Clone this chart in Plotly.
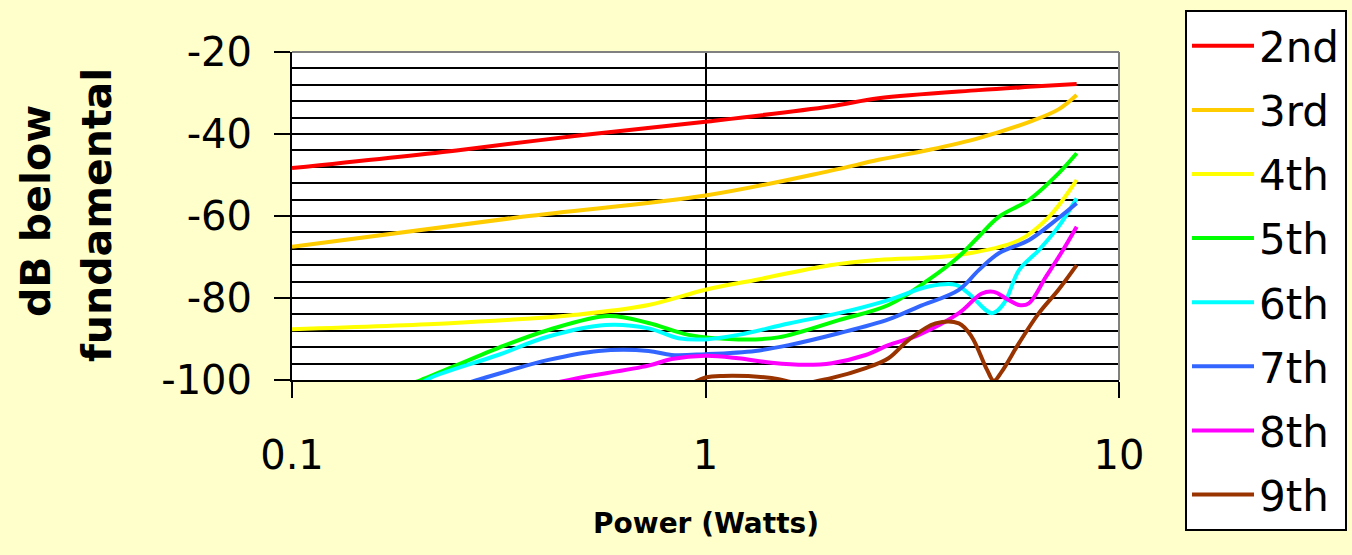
import plotly.graph_objects as go

# ---- data ----
names = ["2nd", "3rd", "4th", "5th", "6th", "7th", "8th", "9th"]
colors = ["#FF0000", "#FFCC00", "#FFFF00", "#00FF00", "#00FFFF", "#3366FF", "#FF00FF", "#993300"]

x2 = [0.1, 0.25, 0.5, 1, 2, 2.62, 4.58, 6.05, 7.9]
y2 = [-48.3, -44, -40.3, -37, -33.3, -31.3, -29.3, -28.5, -27.8]

x3 = [0.1, 0.36, 1, 2, 2.62, 3.46, 4.58, 6.05, 7.14, 7.9]
y3 = [-67.5, -60.2, -55, -49, -46.3, -43.9, -41, -37.1, -34, -30.5]

x4 = [0.1, 0.235, 0.352, 0.485, 0.728, 1, 1.32, 2, 2.62, 4.1, 5.73, 6.77, 7.9]
y4 = [-87.6, -86.2, -85.2, -84.1, -81.7, -78, -75.6, -72, -70.7, -69.5, -65.9, -60.2, -51.2]

x5 = [0.18, 0.205, 0.315, 0.417, 0.582, 0.728, 0.91, 1.2, 1.5, 2.1, 2.77, 3.46, 4.1, 4.58, 5.12, 6.05, 7.14, 7.9]
y5 = [-102, -100, -92.2, -87.8, -84.4, -86.1, -89, -90.1, -89.6, -85.4, -81.7, -75.6, -69.9, -65, -60.2, -56.1, -49.6, -44.7]

x6 = [0.2, 0.216, 0.315, 0.417, 0.573, 0.728, 0.86, 1, 1.2, 1.59, 2.1, 2.77, 3.46, 4.03, 4.33, 4.93, 5.27, 5.73, 6.4, 7.14, 7.9]
y6 = [-101.5, -99.5, -93.9, -89.4, -86.6, -87.4, -89.8, -90.1, -89, -86.2, -83.7, -80.5, -77.2, -76.8, -78.9, -83.7, -81.3, -73.2, -68.3, -62.6, -55.7]

x7 = [0.25, 0.285, 0.417, 0.551, 0.728, 0.828, 1, 1.32, 1.59, 2.1, 2.77, 3.28, 4.1, 4.58, 5.12, 6.05, 6.88, 7.9]
y7 = [-101.6, -99.8, -95.1, -92.9, -92.9, -93.9, -93.7, -92.9, -91.5, -88.6, -85.2, -82.1, -78, -73.2, -69.1, -65.9, -61.8, -56.9]

x8 = [0.42, 0.487, 0.728, 0.828, 1, 1.2, 1.445, 1.75, 2.02, 2.44, 2.77, 3.28, 4.1, 4.66, 4.98, 5.33, 5.73, 6.05, 6.66, 7.24, 7.9]
y8 = [-101, -99.6, -96.5, -94.9, -94.1, -94.7, -95.8, -96.3, -95.9, -93.9, -91.5, -89, -83.7, -78.9, -78.5, -80.1, -81.7, -81.3, -74.8, -69.1, -62.6]

x9 = [0.9, 1, 1.1, 1.445, 1.7, 2.0, 2.44, 2.77, 3.1, 3.6, 4.1, 4.4, 4.8, 4.98, 5.2, 5.73, 6.4, 7.14, 7.9]
y9 = [-101.5, -99.4, -99, -99.5, -100.8, -99.6, -97.1, -94.7, -90.2, -86.2, -86.2, -89.4, -97.6, -100.2, -98, -91, -83.7, -78, -72]

xs = [x2, x3, x4, x5, x6, x7, x8, x9]
ys = [y2, y3, y4, y5, y6, y7, y8, y9]

x_ticks = [0.1, 1, 10]
x_ticklabels = ["0.1", "1", "10"]
y_ticks = [-100, -80, -60, -40, -20]
y_ticklabels = ["-100", "-80", "-60", "-40", "-20"]

# ---- figure ----
fig = go.Figure()
for n, c, xv, yv in zip(names, colors, xs, ys):
    fig.add_trace(go.Scatter(
        x=xv, y=yv, name=n, mode="lines", legendgroup=n,
        line=dict(color=c, width=4, shape="spline", smoothing=1.0),
    ))

FONT = "DejaVu Sans"
L, R, T, B = 292, 233, 52, 175
W, H = 1352, 555
pw, ph = W - L - R, H - T - B

fig.update_layout(
    width=W, height=H,
    margin=dict(l=L, r=R, t=T, b=B, autoexpand=False),
    paper_bgcolor="#FFFFCC",
    plot_bgcolor="#FFFFFF",
    font=dict(family=FONT, color="black"),
    showlegend=True,
    legend=dict(
        x=(1185 - L) / pw, xanchor="left",
        y=(H - B - 10) / ph, yanchor="top",
        bgcolor="white", bordercolor="black", borderwidth=2,
        font=dict(family=FONT, size=42, color="black"),
        tracegroupgap=6.5, itemwidth=62,
    ),
    xaxis=dict(
        type="log", range=[-1, 1],
        tickvals=x_ticks, ticktext=x_ticklabels,
        tickfont=dict(family=FONT, size=40, color="black"),
        ticks="outside", ticklen=16, tickwidth=2, tickcolor="black",
        ticklabelstandoff=23,
        showgrid=True, gridcolor="black", gridwidth=2,
        showline=True, linecolor="black", linewidth=2,
        zeroline=False,
    ),
    yaxis=dict(
        range=[-100, -20],
        tickvals=y_ticks, ticktext=y_ticklabels,
        tickfont=dict(family=FONT, size=40, color="black"),
        ticks="outside", ticklen=16, tickwidth=2, tickcolor="black",
        ticklabelstandoff=14,
        showgrid=True, gridcolor="black", gridwidth=2,
        minor=dict(dtick=4, showgrid=True, gridcolor="black", gridwidth=2, ticks=""),
        showline=True, linecolor="black", linewidth=2,
        zeroline=False,
    ),
    shapes=[
        dict(type="line", xref="paper", yref="paper", x0=0, x1=1, y0=1, y1=1,
             line=dict(color="#808080", width=2)),
        dict(type="line", xref="paper", yref="paper", x0=1, x1=1, y0=0, y1=1,
             line=dict(color="#808080", width=2)),
    ],
    annotations=[
        dict(text="dB below", xref="paper", yref="paper",
             x=(36 - L) / pw, y=(H - B - 211) / ph, xanchor="center", yanchor="middle",
             textangle=-90, showarrow=False,
             font=dict(family=FONT, size=41, color="black", weight="bold")),
        dict(text="fundamental", xref="paper", yref="paper",
             x=(97 - L) / pw, y=(H - B - 215) / ph, xanchor="center", yanchor="middle",
             textangle=-90, showarrow=False,
             font=dict(family=FONT, size=41, color="black", weight="bold")),
        dict(text="Power (Watts)", xref="paper", yref="paper",
             x=0.5, y=-(523 - (H - B)) / ph, xanchor="center", yanchor="middle",
             showarrow=False,
             font=dict(family=FONT, size=28, color="black", weight="bold")),
    ],
)
try:
    fig.update_layout(legend_maxheight=700)
except ValueError:
    pass

fig.write_html("out.html", config={"displayModeBar": False},
               post_script="document.body.style.margin='0px';")
